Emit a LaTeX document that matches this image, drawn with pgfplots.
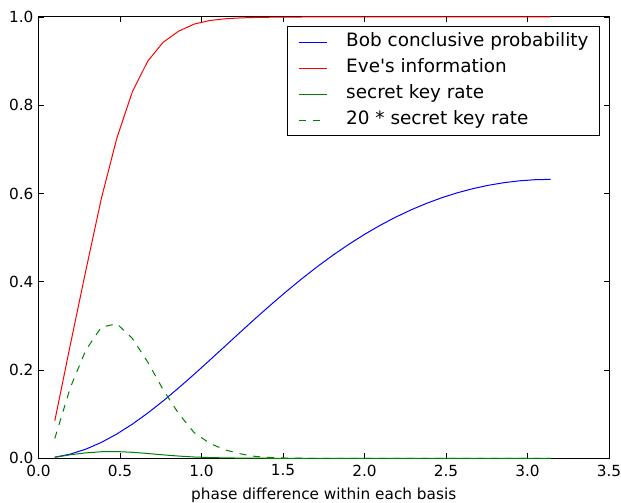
\documentclass[border=0pt]{standalone}
\usepackage{fontspec}
\setmainfont{DejaVu Sans}
\usepackage{pgfplots}
\usepackage{pgfplotstable}
\pgfplotsset{compat=1.18}
\definecolor{mplblue}{rgb}{0,0,1}
\definecolor{mplred}{rgb}{1,0,0}
\definecolor{mplgreen}{rgb}{0,0.5,0}

% phase difference, Bob conclusive prob., Eve info, key rate, 20*key rate
\pgfplotstableread{
x      bob      eve     key       key20
0.1000 0.00250  0.085   0.00225   0.045
0.1951 0.00944  0.257   0.00800   0.160
0.2901 0.02068  0.425   0.01225   0.245
0.3852 0.03597  0.588   0.01485   0.297
0.4802 0.05498  0.725   0.01525   0.305
0.5753 0.07732  0.830   0.01360   0.272
0.6703 0.10254  0.900   0.01090   0.218
0.7653 0.13014  0.943   0.00775   0.155
0.8604 0.15965  0.968   0.00505   0.101
0.9554 0.19053  0.984   0.00290   0.058
1.0505 0.22231  0.992   0.00170   0.034
1.1455 0.25452  0.996   0.00095   0.019
1.2406 0.28672  0.998   0.00050   0.010
1.3356 0.31853  0.999   0.00020   0.004
1.4307 0.34961  0.9995  0.00008   0.0015
1.5257 0.37966  0.9998  0.00003   0.0005
1.6208 0.40844  1.0     0.00001   0.0002
1.7158 0.43576  1.0     0.0       0.0
1.8109 0.46146  1.0     0.0       0.0
1.9059 0.48544  1.0     0.0       0.0
2.0010 0.50763  1.0     0.0       0.0
2.0960 0.52797  1.0     0.0       0.0
2.1911 0.54644  1.0     0.0       0.0
2.2861 0.56305  1.0     0.0       0.0
2.3812 0.57780  1.0     0.0       0.0
2.4762 0.59072  1.0     0.0       0.0
2.5713 0.60183  1.0     0.0       0.0
2.6663 0.61116  1.0     0.0       0.0
2.7614 0.61875  1.0     0.0       0.0
2.8564 0.62462  1.0     0.0       0.0
2.9515 0.62879  1.0     0.0       0.0
3.0465 0.63129  1.0     0.0       0.0
3.1416 0.63212  1.0     0.0       0.0
}\datatable

\begin{document}
\begin{tikzpicture}
\begin{axis}[
  scale only axis,
  width=570.5pt,
  height=441.3pt,
  xmin=0, xmax=3.5,
  ymin=0, ymax=1,
  xtick={0,0.5,1,1.5,2,2.5,3,3.5},
  ytick={0,0.2,0.4,0.6,0.8,1},
  tick align=inside,
  major tick length=5pt,
  tick style={black, line width=0.8pt},
  axis line style={black, line width=1pt},
  /pgf/number format/assume math mode=true,
  /pgf/number format/fixed,
  /pgf/number format/fixed zerofill,
  /pgf/number format/precision=1,
  tick label style={font=\fontsize{15.3}{18}\selectfont},
  xticklabel style={yshift=-3pt},
  yticklabel style={xshift=-1.5pt},
  xlabel={phase difference within each basis},
  xlabel style={font=\fontsize{15.3}{18}\selectfont, yshift=-4.5pt},
  legend cell align=left,
  legend style={
    at={(1,1)}, anchor=north east, xshift=-9pt, yshift=-9pt,
    draw=black, line width=1pt, fill=white,
    font=\fontsize{18.4}{22}\selectfont,
    inner xsep=11pt, inner ysep=6.7pt,
    row sep=8pt, column sep=19pt,
    nodes={inner sep=0pt, text height=13.5pt, text depth=4.5pt},
  },
  legend image code/.code={\draw[#1, line width=1pt] (0pt,0pt) -- (28pt,0pt);},
]
\addplot[mplblue, line width=1pt] table[x=x, y=bob] {\datatable};
\addlegendentry{Bob conclusive probability}
\addplot[mplred, line width=1pt] table[x=x, y=eve] {\datatable};
\addlegendentry{Eve\textquotesingle s information}
\addplot[mplgreen, line width=1pt] table[x=x, y=key] {\datatable};
\addlegendentry{secret key rate}
\addplot[mplgreen, line width=1pt, dash pattern=on 7pt off 7pt] table[x=x, y=key20] {\datatable};
\addlegendentry{20 * secret key rate}
\end{axis}
\pgfresetboundingbox
\path[use as bounding box] (current axis.south west) ++(-38.5pt,-44.7pt) rectangle ++(621pt,503pt);
\end{tikzpicture}
\end{document}
